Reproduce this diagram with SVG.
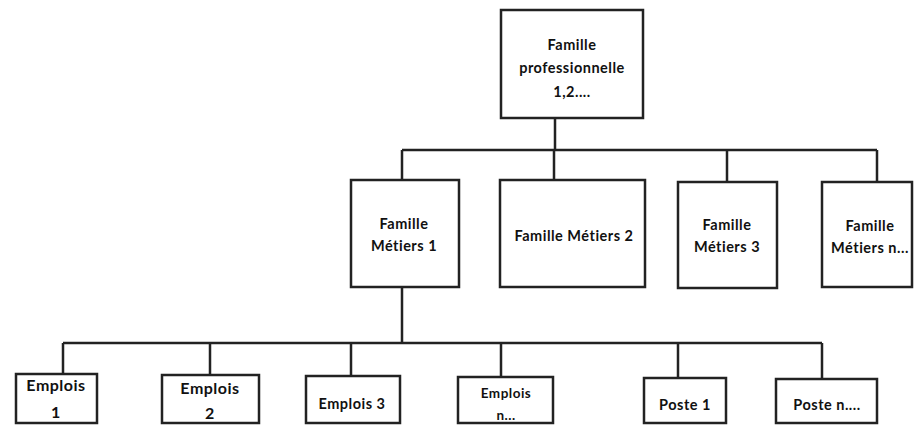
<svg xmlns="http://www.w3.org/2000/svg" width="914" height="427" viewBox="0 0 914 427">
<style>
.box{fill:#fff;stroke:#222;stroke-width:2.5}
.conn{fill:none;stroke:#222;stroke-width:2.5}
text{font-family:Lato,"Open Sans","Liberation Sans",sans-serif;font-size:14.5px;letter-spacing:0.5px;fill:#111;text-anchor:middle;font-weight:bold}
.lg{font-size:16px}
.sm{font-size:13.5px}
</style>
<rect width="914" height="427" fill="#fff"/>
<g id="connectors">
<path class="conn" d="M555 118V150M402 150H877M402 150V180M554 150V180M727 150V182M877 150V182"/>
<path class="conn" d="M402 287V343M63 343H822M63 343V374M210 343V375M351 343V376M501 343V377M678 343V378M822 343V379"/>
</g>
<g id="n-famille-pro"><rect class="box" x="501" y="10" width="142" height="108"/>
<text x="572" y="50">Famille</text><text x="572" y="73">professionnelle</text><text x="572" y="97">1,2....</text></g>
<g id="n-fm1"><rect class="box" x="351" y="180" width="108" height="107"/>
<text x="404" y="229">Famille</text><text x="404" y="251">Métiers 1</text></g>
<g id="n-fm2"><rect class="box" x="500" y="180" width="145" height="107"/>
<text x="574" y="241">Famille Métiers 2</text></g>
<g id="n-fm3"><rect class="box" x="678" y="182" width="99" height="106"/>
<text x="727" y="230">Famille</text><text x="727" y="252">Métiers 3</text></g>
<g id="n-fmn"><rect class="box" x="822" y="182" width="90" height="105"/>
<text x="870" y="231">Famille</text><text x="870" y="253">Métiers n...</text></g>
<g id="n-e1"><rect class="box" x="16" y="374" width="81" height="49"/>
<text class="lg" x="56" y="391">Emplois</text><text class="lg" x="56" y="418">1</text></g>
<g id="n-e2"><rect class="box" x="162" y="375" width="97" height="48"/>
<text class="lg" x="210" y="394">Emplois</text><text class="lg" x="210" y="419">2</text></g>
<g id="n-e3"><rect class="box" x="306" y="376" width="94" height="47"/>
<text x="352" y="409">Emplois 3</text></g>
<g id="n-en"><rect class="box" x="458" y="377" width="95" height="46"/>
<text class="sm" x="506" y="398">Emplois</text><text class="sm" x="506" y="420">n...</text></g>
<g id="n-p1"><rect class="box" x="644" y="378" width="82" height="45"/>
<text x="685" y="410">Poste 1</text></g>
<g id="n-pn"><rect class="box" x="776" y="379" width="101" height="44"/>
<text x="827" y="410">Poste n....</text></g>
</svg>
